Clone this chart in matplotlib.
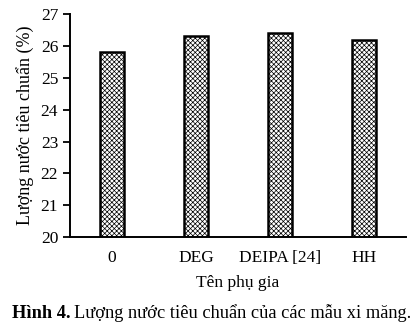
import numpy as np
import matplotlib
matplotlib.use('Agg')
import matplotlib.pyplot as plt

plt.rcParams['font.family'] = ['Liberation Serif', 'DejaVu Serif']
plt.rcParams['hatch.color'] = '#8a8a8a'
plt.rcParams['hatch.linewidth'] = 0.5

categories = ['0', 'DEG', 'DEIPA [24]', 'HH']
values = [25.8, 26.3, 26.4, 26.2]
yticks = [20, 21, 22, 23, 24, 25, 26, 27]

fig = plt.figure(figsize=(4.19, 3.28), dpi=100)
ax = fig.add_axes([0.167, 0.277, 0.802, 0.680])

x = np.arange(len(categories))
ax.bar(x, values, width=0.29, color='white', edgecolor='black',
       linewidth=1.8, hatch='xxxxxxx')

ax.set_xlim(-0.5, 3.5)
ax.set_ylim(20, 27)
ax.set_yticks(yticks)
ax.set_xticks(x)
ax.set_xticklabels(categories, fontsize=12.5)
ax.tick_params(axis='y', labelsize=12.5, direction='out', length=5, width=1.3)
ax.tick_params(axis='x', length=0, pad=9)
for s in ['top', 'right']:
    ax.spines[s].set_visible(False)
for s in ['left', 'bottom']:
    ax.spines[s].set_linewidth(1.4)

ax.set_xlabel('Tên phụ gia', fontsize=12.5, labelpad=7)
ax.set_ylabel('Lượng nước tiêu chuẩn (%)', fontsize=13, labelpad=5)

# caption: bold part then regular part
t1 = fig.text(0.028, 0.03, 'Hình 4.', fontsize=13.2, fontweight='bold')
fig.canvas.draw()
bb = t1.get_window_extent()
x_end = fig.transFigure.inverted().transform((bb.x1, bb.y0))[0]
fig.text(x_end + 0.008, 0.03, 'Lượng nước tiêu chuẩn của các mẫu xi măng.',
         fontsize=13.2)

fig.savefig('out.png', dpi=100)
